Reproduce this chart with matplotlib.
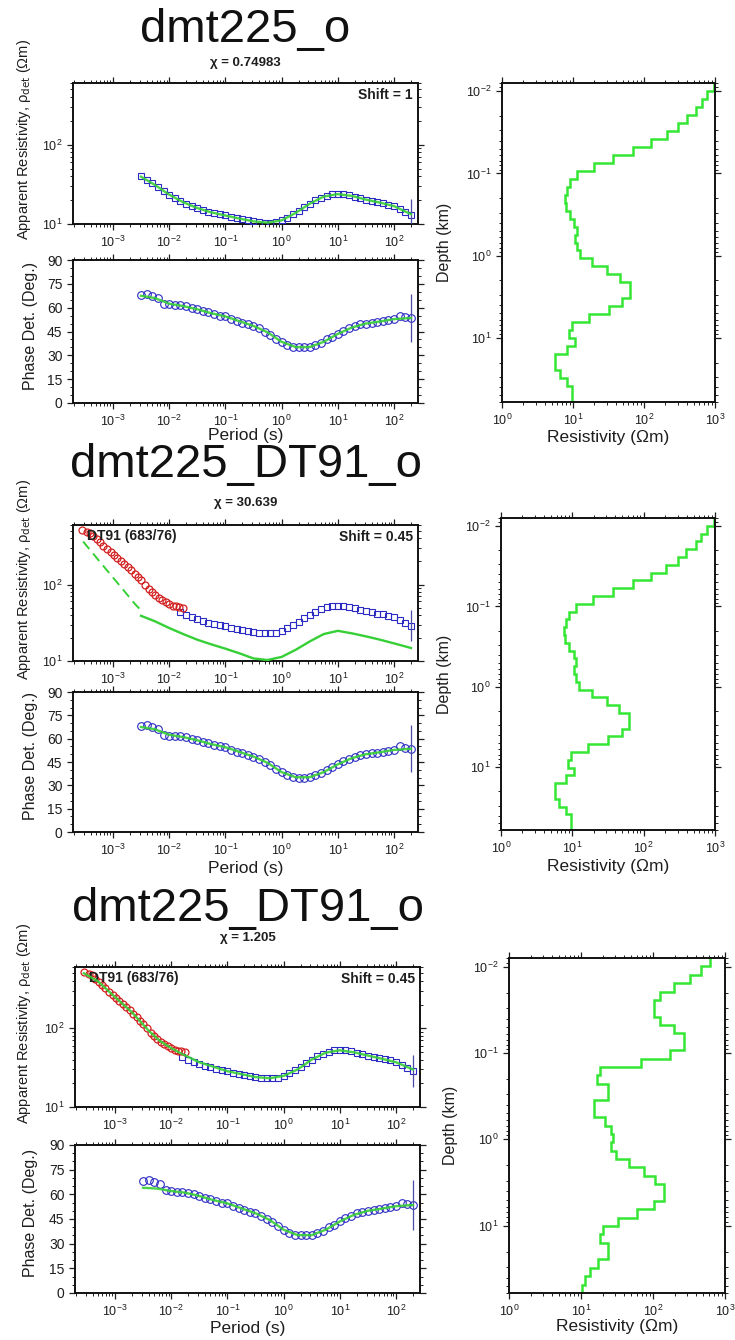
import matplotlib
matplotlib.use("Agg")
import matplotlib.pyplot as plt
from matplotlib.ticker import LogLocator, MultipleLocator, NullFormatter
import numpy as np

plt.rcParams['font.family'] = ['Liberation Sans', 'DejaVu Sans']
plt.rcParams['mathtext.default'] = 'regular'

# --- MT site dmt225, determinant data (unshifted) ---
period = [0.00316, 0.00398, 0.00501, 0.00631, 0.00794, 0.0100, 0.0126, 0.0158, 0.0200, 0.0251,
          0.0316, 0.0398, 0.0501, 0.0631, 0.0794, 0.100, 0.126, 0.158, 0.200, 0.251,
          0.316, 0.398, 0.501, 0.631, 0.794, 1.00, 1.26, 1.58, 2.00, 2.51,
          3.16, 3.98, 5.01, 6.31, 7.94, 10.0, 12.6, 15.8, 20.0, 25.1,
          31.6, 39.8, 50.1, 63.1, 79.4, 100, 126, 158, 200]
rho_det = [40, 36, 32.5, 29, 26, 23, 21, 19.5, 18, 16.8,
           15.8, 15, 14.3, 13.7, 13.2, 12.8, 12.3, 11.9, 11.5, 11.1,
           10.8, 10.5, 10.4, 10.4, 10.6, 11.2, 12.0, 13.2, 14.6, 16.2,
           18.0, 19.8, 21.5, 22.8, 23.6, 23.8, 23.6, 23.0, 22.0, 21.0,
           20.2, 19.5, 18.8, 18.3, 17.6, 16.8, 15.5, 14.2, 13.0]
phase_det = [68, 68.5, 67.5, 66, 62.5, 62, 61.5, 61.5, 61, 60,
             59, 58, 57, 56, 55, 54.5, 53, 51.5, 50.5, 49.5,
             48.5, 47, 45, 43, 40.5, 38.5, 36.5, 35.5, 35, 35,
             35.5, 36.5, 38, 40, 41.5, 43.5, 45.5, 47, 48.5, 49.5,
             50, 50.5, 51, 51.5, 52, 53, 55, 54, 53.5]
rho_err_factor_last = 1.6    # error bar on longest period
phase_err_last = 15.0
shift_joint = 0.45
first_joint = 7              # MT rho used from 0.0158 s in the joint runs

# --- TEM sounding DT91 (683/76), converted to pseudo-period ---
dt91_period = [2.8e-4, 3.4e-4, 3.9e-4, 4.5e-4, 5.2e-4, 5.9e-4, 6.8e-4, 7.9e-4, 9.1e-4, 1.05e-3,
               1.2e-3, 1.4e-3, 1.6e-3, 1.85e-3, 2.1e-3, 2.45e-3, 2.8e-3, 3.2e-3, 3.7e-3, 4.3e-3,
               4.9e-3, 5.7e-3, 6.5e-3, 7.5e-3, 8.7e-3, 0.0100, 0.0115, 0.0132, 0.0152, 0.0175]
dt91_rho = [515, 490, 470, 425, 390, 355, 322, 292, 268, 240,
            220, 205, 188, 170, 153, 138, 124, 113, 100, 87,
            79, 72, 67, 63, 59, 56, 53, 52, 51, 50]

# --- model responses ---
resp_period = [0.00316, 0.00562, 0.0100, 0.0178, 0.0316, 0.0562, 0.100, 0.178, 0.316, 0.562,
               1.00, 1.78, 3.16, 5.62, 10.0, 17.8, 31.6, 56.2, 100, 200]
resp_a_rho = [39.5, 31, 23.5, 18.8, 15.9, 14.0, 12.8, 11.7, 10.8, 10.4,
              11.1, 13.8, 18.0, 22.2, 23.8, 22.6, 20.3, 18.6, 16.8, 13.3]
resp_a_phase = [67.5, 66, 62.5, 61, 59, 56.5, 54.5, 51.5, 48.5, 44.5,
                38.5, 35.2, 35.2, 38.5, 43.5, 47.5, 50, 51.3, 52.8, 53.5]
resp_b_rho = [39, 33, 27, 22.5, 19, 16.5, 14.5, 12.6, 10.8, 10.3,
              11.3, 14, 18, 22.5, 24.8, 23, 21, 19, 17, 14.8]
resp_b_tem_period = [2.95e-4, 6.3e-4, 1.26e-3, 2.5e-3, 3.45e-3]
resp_b_tem_rho = [365, 186, 101, 55, 43]
resp_c_period = [2.8e-4, 5.0e-4, 1.0e-3, 2.0e-3, 4.0e-3, 6.3e-3, 0.0100, 0.0158, 0.0316, 0.100,
                 0.316, 0.562, 1.00, 1.78, 3.16, 5.62, 10.0, 17.8, 31.6, 56.2, 100, 200]
resp_c_rho = [500, 395, 250, 160, 93, 69, 56, 47, 37, 28.5,
              24, 23.2, 24.8, 30, 40, 49, 52.5, 49.5, 45, 41, 37, 30]
resp_c_phase = [64, 63.5, 62, 61, 59, 56.5, 54.5, 51.5, 48.5, 44.5,
                38.5, 35.2, 35.2, 38.5, 43.5, 47.5, 50, 51.3, 52.8, 53.5]

# --- 1D models: layer edges (km) and log10 resistivity per layer ---
depth_edges = [0.00794, 0.00993, 0.01242, 0.01552, 0.01941, 0.02427, 0.03034, 0.03793, 0.04742, 0.05929,
               0.07413, 0.09268, 0.1159, 0.1449, 0.1811, 0.2265, 0.2831, 0.3540, 0.4426, 0.5534,
               0.6918, 0.8650, 1.081, 1.352, 1.690, 2.113, 2.642, 3.304, 4.130, 5.164,
               6.457, 8.072, 10.09, 12.62, 15.78, 19.72, 24.66, 30.83, 38.55, 48.19, 60.26]
model_a_logrho = [2.98, 2.89, 2.81, 2.73, 2.60, 2.48, 2.32, 2.10, 1.85, 1.57,
                  1.29, 1.05, 0.96, 0.91, 0.89, 0.90, 0.96, 1.02, 1.05, 1.03,
                  1.05, 1.10, 1.27, 1.48, 1.66, 1.80, 1.80, 1.69, 1.50, 1.22,
                  0.98, 0.94, 1.03, 0.91, 0.75, 0.75, 0.82, 0.91, 0.98, 0.98]
model_c_logrho = [2.79, 2.66, 2.52, 2.29, 2.10, 2.01, 2.01, 2.10, 2.29, 2.43,
                  2.43, 2.24, 1.83, 1.27, 1.22, 1.38, 1.38, 1.18, 1.18, 1.34,
                  1.41, 1.45, 1.41, 1.48, 1.66, 1.87, 2.03, 2.15, 2.15, 2.01,
                  1.78, 1.52, 1.30, 1.27, 1.38, 1.38, 1.24, 1.13, 1.06, 1.01]

titles = ['dmt225_o', 'dmt225_DT91_o', 'dmt225_DT91_o']
chis = ['0.74983', '30.639', '1.205']

BLUE = '#2b2bc4'
GREEN = '#36d036'
MGREEN = '#35e635'
RED = '#d21e1e'
EBAR = '#4a4aa8'
TXT = '#1e1e1e'

W, H = 735, 1340


def box(l, t, r, b):
    return [l / W, 1 - b / H, (r - l) / W, (b - t) / H]


def frame(ax):
    for s in ax.spines.values():
        s.set_linewidth(1.4)
        s.set_color('#111111')
    ax.tick_params(which='both', direction='out', top=True, right=True,
                   labelsize=9, colors=TXT)
    ax.tick_params(which='major', length=4, width=0.9)
    ax.tick_params(which='minor', length=2, width=0.7)


def log_axis(axis):
    axis.set_major_locator(LogLocator(base=10, numticks=15))
    axis.set_minor_locator(LogLocator(base=10, subs=np.arange(2, 10), numticks=15))
    axis.set_minor_formatter(NullFormatter())


def mt_pair(rect_res, rect_ph):
    ax_r = fig.add_axes(box(*rect_res))
    ax_p = fig.add_axes(box(*rect_ph))
    for ax in (ax_r, ax_p):
        ax.set_xscale('log')
        ax.set_xlim(1.95e-4, 267)
        log_axis(ax.xaxis)
        frame(ax)
    ax_r.set_yscale('log')
    ax_r.set_ylim(10, 600)
    log_axis(ax_r.yaxis)
    ax_p.set_ylim(0, 90)
    ax_p.yaxis.set_major_locator(MultipleLocator(15))
    ax_p.yaxis.set_minor_locator(MultipleLocator(5))
    ax_p.tick_params(axis='y', labelsize=10)
    return ax_r, ax_p


def model_axes(rect, logrho):
    ax = fig.add_axes(box(*rect))
    ax.set_xscale('log')
    ax.set_yscale('log')
    ax.set_xlim(1, 1000)
    ax.set_ylim(60.26, 0.00794)
    log_axis(ax.xaxis)
    log_axis(ax.yaxis)
    frame(ax)
    ax.stairs(10 ** np.array(logrho), depth_edges, orientation='horizontal',
              baseline=None, color=MGREEN, lw=1.8)
    return ax


def plot_mt(ax_r, ax_p, rho, start, phase_resp, resp_phase_period):
    p = period[start:]
    r = rho[start:]
    ax_r.plot(p, r, 's', mfc='none', mec=BLUE, ms=4.5, mew=0.8, zorder=3)
    last = r[-1]
    ax_r.errorbar([p[-1]], [last], yerr=[[last - last / rho_err_factor_last],
                                         [last * rho_err_factor_last - last]],
                  fmt='none', ecolor=EBAR, elinewidth=0.9, capsize=0, zorder=3)
    ax_p.plot(period, phase_det, 'o', mfc='none', mec=BLUE, ms=5.5, mew=0.8, zorder=3)
    ax_p.errorbar([period[-1]], [phase_det[-1]], yerr=phase_err_last, fmt='none',
                  ecolor=EBAR, elinewidth=0.9, capsize=0, zorder=3)
    ax_p.plot(resp_phase_period, phase_resp, '-', color=GREEN, lw=1.7, alpha=0.9, zorder=4)


fig = plt.figure(figsize=(W / 100, H / 100), dpi=100)

rows = [
    dict(res=(73, 83, 418, 224), ph=(73, 260, 418, 403), mod=(502, 83, 715, 402),
         title_y=42, chi_y=63, per_y=436, rlab_y=437, dlab_x=445),
    dict(res=(73, 525, 418, 661), ph=(73, 692, 418, 832), mod=(501, 518, 715, 830),
         title_y=477, chi_y=503, per_y=868, rlab_y=866, dlab_x=445),
    dict(res=(75, 967, 420, 1107), ph=(75, 1145, 420, 1293), mod=(509, 958, 725, 1293),
         title_y=921, chi_y=938, per_y=1328, rlab_y=1326, dlab_x=450),
]

rho_shifted = [v / shift_joint for v in rho_det]

for i, row in enumerate(rows):
    ax_r, ax_p = mt_pair(row['res'], row['ph'])
    l, t, r, b = row['res']
    cx = (l + r) / 2
    if i == 0:
        plot_mt(ax_r, ax_p, rho_det, 0, resp_a_phase, resp_period)
        ax_r.plot(resp_period, resp_a_rho, '-', color=GREEN, lw=1.7, alpha=0.9, zorder=4)
        ax_r.text(0.985, 0.965, 'Shift = 1', transform=ax_r.transAxes, ha='right', va='top',
                  fontsize=10, fontweight='bold', color=TXT)
        mlog = model_a_logrho
    else:
        plot_mt(ax_r, ax_p, rho_shifted, first_joint,
                resp_a_phase if i == 1 else resp_c_phase, resp_period)
        ax_r.plot(dt91_period, dt91_rho, 'o', mfc='none', mec=RED, ms=5, mew=0.9, zorder=3)
        if i == 1:
            ax_r.plot(resp_b_tem_period, resp_b_tem_rho, '--', color=GREEN, lw=1.4,
                      dashes=(5, 3), zorder=4)
            ax_r.plot(resp_period, resp_b_rho, '-', color=GREEN, lw=1.7, zorder=4)
            mlog = model_a_logrho
        else:
            ax_r.plot(resp_c_period, resp_c_rho, '-', color=GREEN, lw=1.7, alpha=0.9, zorder=4)
            mlog = model_c_logrho
        ax_r.text(0.04, 0.97, 'DT91 (683/76)', transform=ax_r.transAxes, ha='left', va='top',
                  fontsize=10, fontweight='bold', color=TXT)
        ax_r.text(0.985, 0.965, 'Shift = 0.45', transform=ax_r.transAxes, ha='right', va='top',
                  fontsize=10, fontweight='bold', color=TXT)

    # titles and labels
    fig.text(cx / W, 1 - row['title_y'] / H, titles[i], fontsize=34, ha='center',
             va='baseline', color='#111111')
    fig.text(cx / W, 1 - row['chi_y'] / H, '\u03c7 = ' + chis[i], fontsize=9.5,
             fontweight='bold', ha='center', va='center', color=TXT)
    fig.text(24 / W, 1 - ((t + b) / 2 - 14) / H,
             r'Apparent Resistivity, $\rho_{\rm det}$ ($\Omega$m)',
             rotation=90, fontsize=10.5, ha='center', va='center', color=TXT)
    pl, pt, pr, pb = row['ph']
    fig.text(31 / W, 1 - ((pt + pb) / 2 - 6) / H, 'Phase Det. (Deg.)', rotation=90,
             fontsize=11.5, ha='center', va='center', color=TXT)
    fig.text(cx / W, 1 - row['per_y'] / H, 'Period (s)', fontsize=12.5,
             ha='center', va='center', color=TXT)

    ax_m = model_axes(row['mod'], mlog)
    ml, mt, mr, mb = row['mod']
    fig.text(((ml + mr) / 2) / W, 1 - row['rlab_y'] / H, 'Resistivity (\u03a9m)',
             fontsize=12.5, ha='center', va='center', color=TXT)
    fig.text(row['dlab_x'] / W, 1 - ((mt + mb) / 2) / H, 'Depth (km)', rotation=90,
             fontsize=11.5, ha='center', va='center', color=TXT)

fig.savefig('out.png', dpi=100)
